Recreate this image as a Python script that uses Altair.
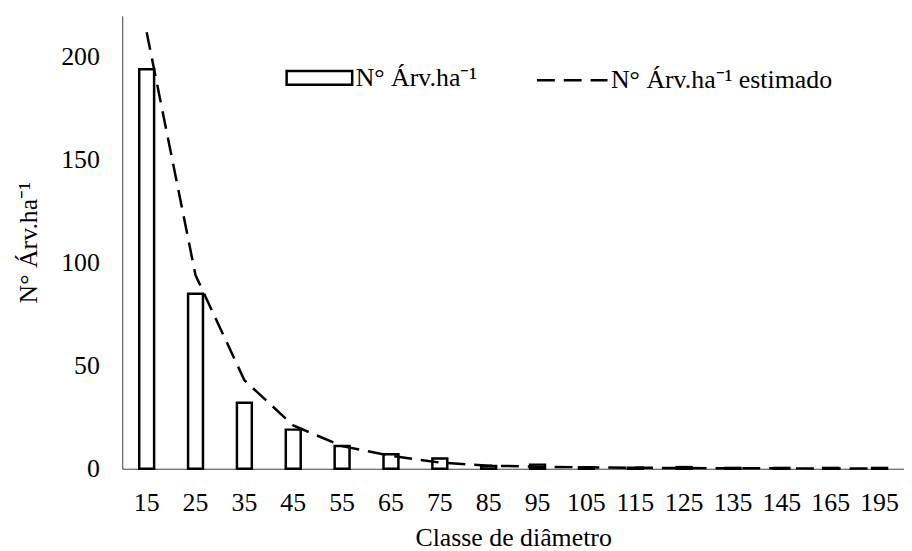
import altair as alt
import pandas as pd

classes = ["15", "25", "35", "45", "55", "65", "75", "85", "95", "105",
           "115", "125", "135", "145", "165", "195"]
observed = [194, 85, 32, 19, 11, 7, 5, 1.3, 2, 0.7, 0.5, 0.8, 0.4, 0.4, 0.4, 0.4]
estimated = [212, 94, 43, 21, 11, 6.3, 3, 1.5, 1, 0.7, 0.5, 0.35, 0.25, 0.2, 0.15, 0.1]
y_ticks = [0, 50, 100, 150, 200]

bar_label = "N° Árv.ha⁻¹"
line_label = "N° Árv.ha⁻¹ estimado"
y_title = "N° Árv.ha⁻¹"
x_title = "Classe de diâmetro"

df = pd.DataFrame({
    "classe": classes,
    "obs": observed,
    "est": estimated,
    "s1": bar_label,
    "s2": line_label,
})

FONT = "'Liberation Serif'"
FS = 26

x_enc = alt.X(
    "classe:N", sort=classes,
    scale=alt.Scale(paddingInner=0, paddingOuter=0),
    axis=alt.Axis(title=x_title, labelAngle=0, ticks=False, labelPadding=21,
                  titlePadding=9, grid=False),
)
y_scale = alt.Scale(domain=[0, 220], nice=False, zero=True)
y_axis = alt.Axis(title=y_title, values=y_ticks, ticks=False, grid=False,
                  labelPadding=23, titlePadding=19)

bars = alt.Chart(df).mark_bar(width=15, stroke="black", strokeWidth=2.5).encode(
    x=x_enc,
    y=alt.Y("obs:Q", scale=y_scale, axis=y_axis, title=y_title),
    fill=alt.Fill(
        "s1:N", scale=alt.Scale(range=["white"]),
        legend=alt.Legend(
            title=None, orient="none", legendX=164, legendY=28,
            symbolType="M-1,-0.21H1V0.21H-1Z", symbolSize=4356,
            symbolStrokeColor="black", symbolStrokeWidth=2.5,
            symbolFillColor="white",
            labelFont=FONT, labelFontSize=FS, labelColor="black",
            labelOffset=2, labelLimit=400,
        ),
    ),
)

line = alt.Chart(df).mark_line(color="black", strokeWidth=2.5).encode(
    x=x_enc,
    y=alt.Y("est:Q", scale=y_scale, axis=y_axis, title=y_title),
    strokeDash=alt.StrokeDash(
        "s2:N", scale=alt.Scale(range=[[18, 9]]),
        legend=alt.Legend(
            title=None, orient="none", legendX=416, legendY=28,
            symbolType="stroke", symbolSize=5041,
            symbolStrokeColor="black", symbolStrokeWidth=2.5,
            labelFont=FONT, labelFontSize=FS, labelColor="black",
            labelOffset=2, labelLimit=400,
        ),
    ),
)

chart = alt.layer(bars, line).properties(
    width=787, height=456,
    autosize=alt.AutoSizeParams(type="none"),
    padding={"left": 115, "top": 6, "right": 0, "bottom": 86},
).configure_view(stroke=None).configure_axis(
    labelFont=FONT, labelFontSize=FS, labelColor="black",
    titleFont=FONT, titleFontSize=FS, titleColor="black", titleFontWeight="normal",
    domainColor="#404040", domainWidth=1,
)

chart.save("out.html", embed_options={"renderer": "svg", "actions": False})
